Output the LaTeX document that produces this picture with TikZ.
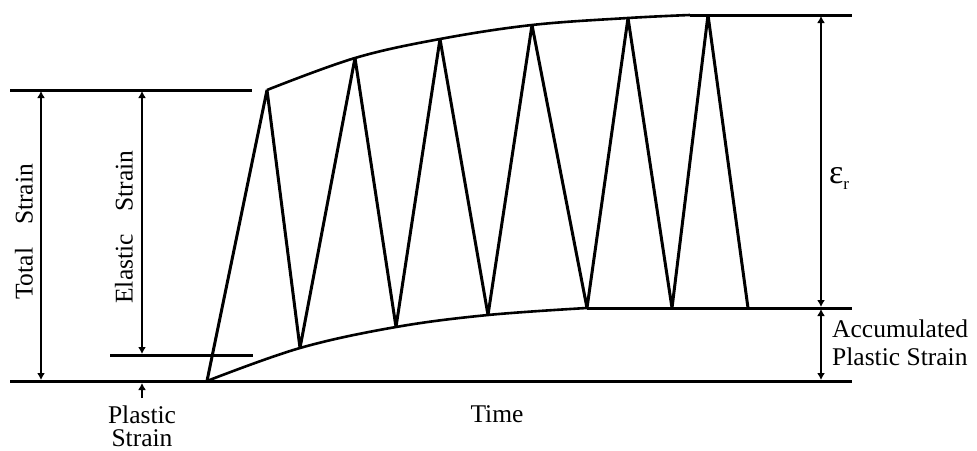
\documentclass[tikz,border=0pt]{standalone}
\usepackage{fontspec}
\setmainfont{Liberation Serif}
\usetikzlibrary{arrows.meta, positioning}
\tikzset{
  axisline/.style={line width=3pt},
  zigline/.style={line width=3pt, line join=bevel},
  envline/.style={line width=2.6pt},
  dimline/.style={line width=1.5pt, {Latex[length=7pt,width=8pt]}-{Latex[length=7pt,width=8pt]}},
  label/.style={font=\fontsize{25.5}{28}\selectfont, inner sep=0pt}
}

\begin{document}
\begin{tikzpicture}[x=1pt, y=-1pt]
  \useasboundingbox (0,0) rectangle (977,450);

  % levels
  \coordinate (topL) at (10,90);
  \coordinate (topLe) at (252,90);
  \coordinate (elL) at (110,355);
  \coordinate (elLe) at (253,355);
  \coordinate (baseL) at (10,381);
  \coordinate (baseR) at (852,381);
  \coordinate (topR) at (852,15);
  \coordinate (midR) at (852,308);

  % cycle points
  \coordinate (s0) at (207,381);
  \coordinate (p1) at (267,90);
  \coordinate (v1) at (300,348);
  \coordinate (p2) at (355,58);
  \coordinate (v2) at (396,327);
  \coordinate (p3) at (440,39);
  \coordinate (v3) at (488,315);
  \coordinate (p4) at (532,25);
  \coordinate (v4) at (587,308);
  \coordinate (p5) at (628,18);
  \coordinate (v5) at (672,308);
  \coordinate (p6) at (708,15);
  \coordinate (e0) at (748,308);
  \coordinate (ctop) at (690,15);

  \draw[axisline] (topL) -- (topLe);
  \draw[axisline] (elL) -- (elLe);
  \draw[axisline] (baseL) -- (baseR);
  \draw[axisline] (ctop) -- (topR);
  \draw[axisline] (v4) -- (midR);

  \draw[envline] plot[smooth, tension=0.6] coordinates {(p1) (p2) (p3) (p4) (p5) (ctop)};
  \draw[envline] plot[smooth, tension=0.6] coordinates {(s0) (v1) (v2) (v3) (v4)};

  \draw[zigline] (s0) -- (p1) -- (v1) -- (p2) -- (v2) -- (p3) -- (v3) -- (p4) -- (v4) -- (p5) -- (v5) -- (p6) -- (e0);

  % dimensions
  \coordinate (ts1) at (41,91);
  \coordinate (ts2) at (41,380);
  \coordinate (es1) at (142,91);
  \coordinate (es2) at (142,354);
  \coordinate (er1) at (821,16);
  \coordinate (er2) at (821,307);
  \coordinate (ap1) at (821,309);
  \coordinate (ap2) at (821,380);
  \coordinate (ps1) at (142,398);
  \coordinate (ps2) at (142,383);

  \draw[dimline] (ts1) -- (ts2);
  \draw[dimline] (es1) -- (es2);
  \draw[dimline] (er1) -- (er2);
  \draw[dimline] (ap1) -- (ap2);
  \draw[line width=1.5pt, -{Latex[length=7pt,width=8pt]}] (ps1) -- (ps2);

  \node[label, rotate=90] (total) at (24,232) {Total\hspace{0.9em}Strain};
  \node[label, rotate=90] (elastic) at (124,227) {Elastic\hspace{0.9em}Strain};
  \node[label, anchor=west] (epsr) at (829,178) {{\fontsize{34}{34}\selectfont ε}\raisebox{-6pt}{\fontsize{17}{17}\selectfont r}};
  \node[label, anchor=base west] (accum) at (832,337) {Accumulated};
  \node[label, anchor=base west] (plastr) at (832,365) {Plastic Strain};
  \node[label, anchor=base] (plast) at (142,423) {Plastic};
  \node[label, anchor=base] (strn) at (142,446) {Strain};
  \node[label, anchor=base] (time) at (497,422) {Time};
\end{tikzpicture}
\end{document}
